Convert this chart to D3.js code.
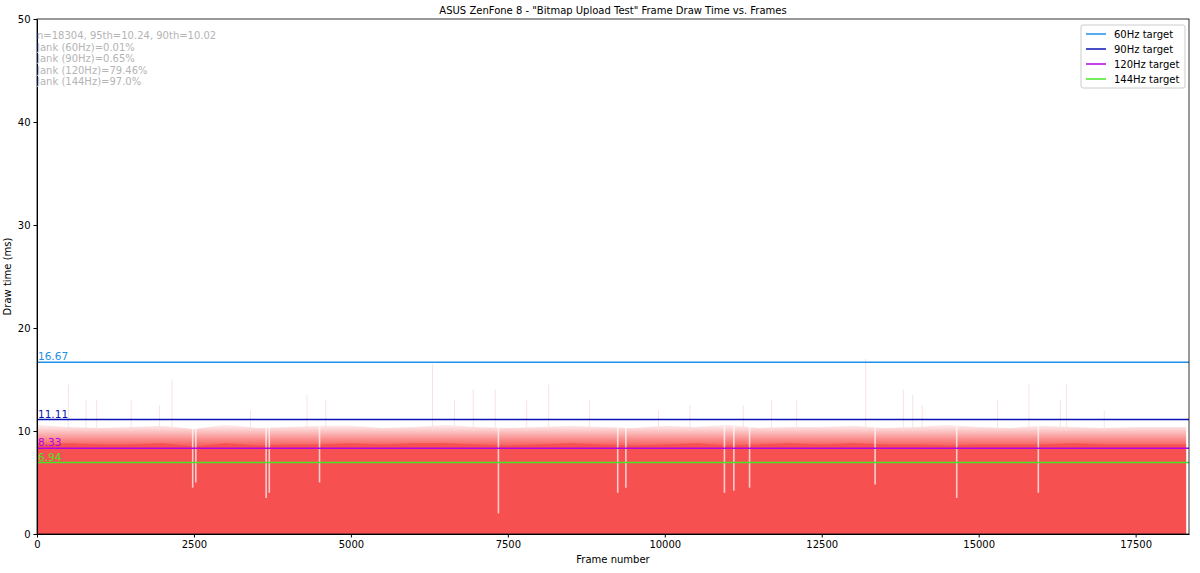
<!DOCTYPE html>
<html>
<head>
<meta charset="utf-8">
<script src="https://cdn.jsdelivr.net/npm/d3@7"></script>
<style>
  body { margin: 0; background: #fff; }
  text { font-family: "DejaVu Sans", sans-serif; }
</style>
</head>
<body>
<svg id="chart" width="1200" height="573"></svg>
<script>
// frames sampled every 500, solid body height and upper fringe (ms)
var sampleFrames = [0,500,1000,1500,2000,2500,3000,3500,4000,4500,5000,5500,6000,6500,7000,7500,8000,8500,9000,9500,10000,10500,11000,11500,12000,12500,13000,13500,14000,14500,15000,15500,16000,16500,17000,17500,18000,18304];
var bodyMs =   [8.6,8.8,8.7,8.7,8.8,8.5,8.8,8.6,8.7,8.7,8.8,8.7,8.8,8.8,8.7,8.6,8.7,8.8,8.7,8.6,8.7,8.8,8.6,8.7,8.8,8.7,8.8,8.7,8.7,8.6,8.7,8.7,8.7,8.8,8.7,8.7,8.7,8.7];
var fringeMs = [10.6,10.4,10.3,10.4,10.5,10.2,10.6,10.3,10.4,10.5,10.5,10.3,10.4,10.6,10.4,10.3,10.4,10.5,10.4,10.3,10.5,10.4,10.6,10.3,10.4,10.4,10.5,10.3,10.4,10.6,10.4,10.3,10.5,10.4,10.3,10.4,10.4,10.4];
// frames with a sharp drop in draw time
var dipFrames = [2480,2530,3650,3700,4500,7350,9250,9380,10950,11100,11350,13350,14650,15950];
var dipMs =     [4.5, 5.0, 3.5, 4.0, 5.0, 2.0, 4.0, 4.5, 4.0, 4.2, 4.5, 4.8, 3.5, 4.0];
// isolated long frames
var spikeFrames = [500,780,950,1500,1950,2150,3400,4300,4600,6300,6650,6950,7300,7800,8150,8800,9900,10400,11250,11700,12100,13200,13800,13950,14100,15300,15800,16300,16400,17000];
var spikeMs =     [14.5,13,13,13,12.5,15,12,13.5,13,16.5,13,14,14,13,14.5,13,12,12.5,12.5,13,13,17,14,13.5,12.5,13,14.5,13,14.5,12];
var targetNames = ["60Hz target","90Hz target","120Hz target","144Hz target"];
var targetMs = [16.67,11.11,8.33,6.94];
var targetColors = ["#1e90e8","#0a14b4","#b400e6","#46e628"];
var statLines = ["n=18304, 95th=10.24, 90th=10.02","Jank (60Hz)=0.01%","Jank (90Hz)=0.65%","Jank (120Hz)=79.46%","Jank (144Hz)=97.0%"];
var xTicks = [0,2500,5000,7500,10000,12500,15000,17500];
var yTicks = [0,10,20,30,40,50];

var svg = d3.select("#chart");
var mLeft = 37, mRight = 1189, mTop = 19, mBottom = 534;
var x = d3.scaleLinear().domain([0, 18350]).range([mLeft, mRight]);
var y = d3.scaleLinear().domain([0, 50]).range([mBottom, mTop]);
var red = "#f65050";

// fading fringe above the dense part
var grad = svg.append("defs").append("linearGradient").attr("id", "fade")
  .attr("gradientUnits", "userSpaceOnUse").attr("x1", 0).attr("x2", 0)
  .attr("y1", y(8.6)).attr("y2", y(10.6));
grad.append("stop").attr("offset", 0).attr("stop-color", red).attr("stop-opacity", 0.9);
grad.append("stop").attr("offset", 1).attr("stop-color", red).attr("stop-opacity", 0.08);

var g = svg.append("g");
g.append("path")
  .datum(sampleFrames.map(function(f, i) { return [f, fringeMs[i]]; }))
  .attr("fill", "url(#fade)")
  .attr("d", d3.area().x(function(d) { return x(d[0]); }).y0(y(0)).y1(function(d) { return y(d[1]); }));
g.append("path")
  .datum(sampleFrames.map(function(f, i) { return [f, bodyMs[i]]; }))
  .attr("fill", red)
  .attr("d", d3.area().x(function(d) { return x(d[0]); }).y0(y(0)).y1(function(d) { return y(d[1]); }));
// spikes
g.selectAll(".spike").data(spikeFrames).enter().append("line")
  .attr("x1", function(d) { return x(d); }).attr("x2", function(d) { return x(d); })
  .attr("y1", y(10)).attr("y2", function(d, i) { return y(spikeMs[i]); })
  .attr("stroke", "#f6dcdc").attr("stroke-width", 0.8);
// dips
g.selectAll(".dip").data(dipFrames).enter().append("line")
  .attr("x1", function(d) { return x(d); }).attr("x2", function(d) { return x(d); })
  .attr("y1", y(10.5)).attr("y2", function(d, i) { return y(dipMs[i]); })
  .attr("stroke", "#ffffff").attr("stroke-width", 1.6).attr("opacity", 0.7);

// target lines
targetMs.forEach(function(t, i) {
  g.append("line").attr("x1", mLeft).attr("x2", mRight).attr("y1", y(t)).attr("y2", y(t))
    .attr("stroke", targetColors[i]).attr("stroke-width", 1.5);
  g.append("text").attr("x", mLeft + 1).attr("y", y(t) - 2).attr("font-size", 10.5)
    .attr("fill", targetColors[i]).text(t.toFixed(2));
});

// axes
svg.append("g").attr("transform", "translate(0," + mBottom + ")")
  .call(d3.axisBottom(x).tickValues(xTicks).tickFormat(d3.format("d")).tickSize(3.5).tickSizeOuter(0))
  .call(function(a) { a.selectAll("text").attr("font-size", 10).attr("fill", "#000"); });
svg.append("g").attr("transform", "translate(" + mLeft + ",0)")
  .call(d3.axisLeft(y).tickValues(yTicks).tickSize(3.5).tickSizeOuter(0))
  .call(function(a) { a.selectAll("text").attr("font-size", 10).attr("fill", "#000"); });
svg.append("rect").attr("x", mLeft).attr("y", mTop).attr("width", mRight - mLeft).attr("height", mBottom - mTop)
  .attr("fill", "none").attr("stroke", "#000").attr("stroke-width", 0.8);

// stats
statLines.forEach(function(s, i) {
  svg.append("text").attr("x", mLeft).attr("y", mTop + 20 + i * 11.5).attr("font-size", 10)
    .attr("fill", "#b4b4b4").text(s);
});

// titles
svg.append("text").attr("x", (mLeft + mRight) / 2).attr("y", 14).attr("text-anchor", "middle")
  .attr("font-size", 10).text('ASUS ZenFone 8 - "Bitmap Upload Test" Frame Draw Time vs. Frames');
svg.append("text").attr("x", (mLeft + mRight) / 2).attr("y", 563).attr("text-anchor", "middle")
  .attr("font-size", 10).text("Frame number");
svg.append("text").attr("transform", "translate(11," + ((mTop + mBottom) / 2) + ") rotate(-90)")
  .attr("text-anchor", "middle").attr("font-size", 10).text("Draw time (ms)");

// legend
var lg = svg.append("g").attr("transform", "translate(1081,25)");
lg.append("rect").attr("width", 104).attr("height", 63).attr("rx", 2).attr("fill", "#fff")
  .attr("stroke", "#ccc");
targetNames.forEach(function(n, i) {
  var yy = 9 + i * 15;
  lg.append("line").attr("x1", 5).attr("x2", 25).attr("y1", yy).attr("y2", yy)
    .attr("stroke", targetColors[i]).attr("stroke-width", 1.5);
  lg.append("text").attr("x", 33).attr("y", yy + 3.5).attr("font-size", 10).text(n);
});
</script>
</body>
</html>
